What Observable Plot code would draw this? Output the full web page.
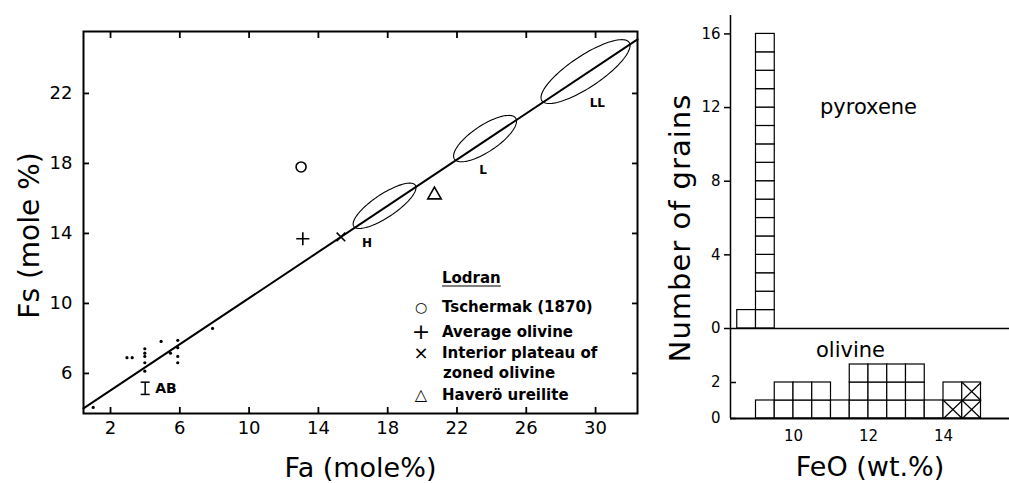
<!DOCTYPE html>
<html><head><meta charset="utf-8">
<script src="https://cdn.jsdelivr.net/npm/d3@7"></script>
<script src="https://cdn.jsdelivr.net/npm/@observablehq/plot@0.6"></script>
<style>
body{margin:0;background:#fff;}
#wrap{position:relative;width:1009px;height:483px;overflow:hidden;background:#fff;font-family:"DejaVu Sans",sans-serif;color:#000;}
.abs{position:absolute;}
.leg{position:absolute;font-size:15px;font-weight:bold;white-space:nowrap;line-height:1;transform:translateY(-50%);}
.sym{position:absolute;font-size:17px;line-height:1;transform:translate(-50%,-50%);}
</style></head><body><div id="wrap"></div>
<script>
// ---------- Left panel data ----------
const faTicks = [2, 6, 10, 14, 18, 22, 26, 30];
const fsTicks = [6, 10, 14, 18, 22];
const faDomain = [0.44, 32.42];
const fsDomain = [3.71, 25.54];
const lineFa = [0.44, 32.42];
const lineFs = [4.0, 25.09];
const ellipseNames = ["H", "L", "LL"];
const ellipseFa = [17.82, 23.62, 29.42];
const ellipseFs = [15.58, 19.42, 23.25];
const ellipseSemiMajor = [2.13, 2.12, 3.02];
const ellipseSemiMinor = [0.66, 0.75, 0.9];
const ellipseLabelFa = [16.8, 23.5, 30.1];
const ellipseLabelFs = [13.43, 17.6, 21.43];
const grainFa = [1.0, 2.95, 3.25, 3.98, 3.98, 3.98, 3.98, 3.98, 4.92, 5.46, 5.88, 5.88, 5.88, 5.88, 7.89];
const grainFs = [4.06, 6.9, 6.9, 7.41, 7.16, 6.97, 6.61, 6.13, 7.83, 7.16, 7.89, 7.47, 6.97, 6.61, 8.57];
const refNames = ["Tschermak (1870)", "Average olivine", "Interior plateau of zoned olivine", "Haverö ureilite"];
const refFa = [13.0, 13.1, 15.3, 20.7];
const refFs = [17.8, 13.7, 13.8, 16.2];
const refSymbols = ["circle", "plus", "times", "triangle"];
const refRadius = [5, 4.3, 4.0, 5];
const abLabel = ["AB"];
const abFa = [4.0];
const abLow = [4.8];
const abHigh = [5.5];

// ---------- Right panel data ----------
const feoDomain = [8.32, 15.76];
const feoTicks = [10, 12, 14];
const binWidth = 0.5;
const pyroxeneBins = [8.5, 9.0];
const pyroxeneCounts = [1, 16];
const pyroxeneTicks = [0, 4, 8, 12, 16];
const olivineBins = [9.0, 9.5, 10.0, 10.5, 11.0, 11.5, 12.0, 12.5, 13.0, 13.5, 14.0, 14.5];
const olivineCounts = [1, 2, 2, 2, 1, 3, 3, 3, 3, 1, 2, 2];
const olivineTicks = [0, 2];
const crossedBins = [14.0, 14.5, 14.5];
const crossedLevels = [0, 0, 1];

const wrap = document.getElementById("wrap");
function place(node, left, top, w, h) {
  const d = document.createElement("div");
  d.className = "abs";
  d.style.left = left + "px"; d.style.top = top + "px";
  d.style.width = w + "px"; d.style.height = h + "px";
  d.appendChild(node);
  wrap.appendChild(d);
  return d;
}

// horizontal bar symbol for error-bar caps
const hbar = {draw(ctx, size) { const r = Math.sqrt(size / Math.PI); ctx.moveTo(-r, 0); ctx.lineTo(r, 0); }};

// ---------- Left scatter plot ----------
const grains = grainFa.map((fa, i) => ({fa, fs: grainFs[i]}));
const refs = refNames.map((name, i) => ({name, fa: refFa[i], fs: refFs[i], symbol: refSymbols[i], r: refRadius[i]}));
const theta = Math.atan2(lineFs[1] - lineFs[0], lineFa[1] - lineFa[0]);
const ellipsePts = ellipseNames.flatMap((name, i) => d3.range(0, 121).map(j => {
  const t = j / 120 * 2 * Math.PI;
  const u = ellipseSemiMajor[i] * Math.cos(t), v = ellipseSemiMinor[i] * Math.sin(t);
  return {name, fa: ellipseFa[i] + u * Math.cos(theta) - v * Math.sin(theta), fs: ellipseFs[i] + u * Math.sin(theta) + v * Math.cos(theta)};
}));
const ellipseLabels = ellipseNames.map((name, i) => ({name, fa: ellipseLabelFa[i], fs: ellipseLabelFs[i]}));
const ab = abLabel.map((name, i) => ({name, fa: abFa[i], lo: abLow[i], hi: abHigh[i]}));
const mainLine = lineFa.map((fa, i) => ({fa, fs: lineFs[i]}));

const left = Plot.plot({
  width: 660, height: 483,
  marginLeft: 83, marginRight: 23, marginTop: 31, marginBottom: 70,
  style: {background: "none", fontFamily: "DejaVu Sans, sans-serif", overflow: "visible"},
  x: {domain: faDomain},
  y: {domain: fsDomain},
  r: {type: "identity"},
  marks: [
    Plot.frame({stroke: "black", strokeWidth: 2}),
    Plot.axisX({anchor: "bottom", ticks: faTicks, tickSize: -6, tickPadding: 14, fontSize: 18, strokeWidth: 1.8, label: null}),
    Plot.axisX({anchor: "top", ticks: faTicks, tickSize: -6, tickFormat: () => "", strokeWidth: 1.8, label: null}),
    Plot.axisY({anchor: "left", ticks: fsTicks, tickSize: -6, tickPadding: 17, fontSize: 18, strokeWidth: 1.8, label: null}),
    Plot.axisY({anchor: "right", ticks: fsTicks, tickSize: -6, tickFormat: () => "", strokeWidth: 1.8, label: null}),
    Plot.line(mainLine, {x: "fa", y: "fs", stroke: "black", strokeWidth: 2}),
    Plot.line(ellipsePts, {x: "fa", y: "fs", z: "name", stroke: "black", strokeWidth: 1.1}),
    Plot.text(ellipseLabels, {x: "fa", y: "fs", text: "name", fontSize: 12, fontWeight: "bold"}),
    Plot.dot(grains, {x: "fa", y: "fs", r: 1.6, fill: "black"}),
    Plot.dot(refs, {x: "fa", y: "fs", symbol: "symbol", r: "r", stroke: "black", strokeWidth: 1.6, fill: "none"}),
    Plot.link(ab, {x1: "fa", x2: "fa", y1: "lo", y2: "hi", stroke: "black", strokeWidth: 1.5}),
    Plot.dot(ab, {x: "fa", y: "lo", symbol: hbar, r: 4.5, stroke: "black", strokeWidth: 1.5}),
    Plot.dot(ab, {x: "fa", y: "hi", symbol: hbar, r: 4.5, stroke: "black", strokeWidth: 1.5}),
    Plot.text(ab, {x: "fa", y: d => (d.lo + d.hi) / 2, text: "name", textAnchor: "start", dx: 10, fontSize: 14, fontWeight: "bold"}),
    Plot.text(["Fa (mole%)"], {frameAnchor: "bottom", textAnchor: "middle", lineAnchor: "middle", dy: 55, fontSize: 27}),
    Plot.text(["Fs (mole %)"], {frameAnchor: "left", textAnchor: "middle", lineAnchor: "middle", dx: -53, dy: 13, rotate: -90, fontSize: 28})
  ]
});
place(left, 0, 0, 660, 483);

// Legend
function addLeg(text, x, y, underline) {
  const d = document.createElement("div");
  d.className = "leg"; d.textContent = text;
  d.style.left = x + "px"; d.style.top = y + "px";
  if (underline) { d.style.textDecoration = "underline"; d.style.textUnderlineOffset = "3px"; }
  wrap.appendChild(d);
}
function addSym(ch, x, y, size) {
  const d = document.createElement("div");
  d.className = "sym"; d.textContent = ch;
  d.style.left = x + "px"; d.style.top = y + "px";
  if (size) d.style.fontSize = size + "px";
  wrap.appendChild(d);
}
addLeg("Lodran", 442, 278, true);
const legSyms = ["○", "+", "×", "△"];
const legY = [307, 332, 353, 395];
addSym(legSyms[0], 421, legY[0], 14);
addSym(legSyms[1], 421, legY[1], 22);
addSym(legSyms[2], 421, legY[2], 18);
addSym(legSyms[3], 421, legY[3], 16);
addLeg(refNames[0], 442, legY[0]);
addLeg(refNames[1], 442, legY[1]);
addLeg("Interior plateau of", 442, legY[2]);
addLeg("zoned olivine", 443, 373);
addLeg(refNames[3], 442, legY[3]);

// ---------- Right histograms ----------
const cells = (bins, counts) => bins.flatMap((b, i) => d3.range(counts[i]).map(k => ({x1: b, x2: b + binWidth, y1: k, y2: k + 1})));
const pyrCells = cells(pyroxeneBins, pyroxeneCounts);
const olvCells = cells(olivineBins, olivineCounts);
const crossCells = crossedBins.map((b, i) => ({x1: b, x2: b + binWidth, y1: crossedLevels[i], y2: crossedLevels[i] + 1}));

const histStyle = {background: "none", fontFamily: "DejaVu Sans, sans-serif", overflow: "visible"};
const pyr = Plot.plot({
  width: 349, height: 331,
  marginLeft: 70, marginRight: 0, marginTop: 15, marginBottom: 3,
  style: histStyle,
  x: {domain: feoDomain, axis: null},
  y: {domain: [0, 17]},
  marks: [
    Plot.rect(pyrCells, {x1: "x1", x2: "x2", y1: "y1", y2: "y2", fill: "white", stroke: "black", strokeWidth: 1.2}),
    Plot.ruleY([0], {stroke: "black", strokeWidth: 1.5}),
    Plot.ruleX([feoDomain[0]], {stroke: "black", strokeWidth: 1.5}),
    Plot.axisY({ticks: pyroxeneTicks, tickSize: 6, tickPadding: 4, fontSize: 15, strokeWidth: 1.5, tickFormat: d3.format("d"), label: null}),
    Plot.text(["pyroxene"], {x: 12.0, y: 12.0, fontSize: 21})
  ]
});
place(pyr, 660, 0, 349, 331);

const olv = Plot.plot({
  width: 349, height: 163,
  marginLeft: 70, marginRight: 0, marginTop: 8, marginBottom: 65,
  style: histStyle,
  x: {domain: feoDomain},
  y: {domain: [0, 5]},
  marks: [
    Plot.rect(olvCells, {x1: "x1", x2: "x2", y1: "y1", y2: "y2", fill: "white", stroke: "black", strokeWidth: 1.2}),
    Plot.link(crossCells, {x1: "x1", y1: "y1", x2: "x2", y2: "y2", stroke: "black", strokeWidth: 1.2}),
    Plot.link(crossCells, {x1: "x1", y1: "y2", x2: "x2", y2: "y1", stroke: "black", strokeWidth: 1.2}),
    Plot.ruleY([0], {stroke: "black", strokeWidth: 1.8}),
    Plot.ruleX([feoDomain[0]], {stroke: "black", strokeWidth: 1.5}),
    Plot.axisY({ticks: olivineTicks, tickSize: -6, tickPadding: 16, fontSize: 15, strokeWidth: 1.5, tickFormat: d3.format("d"), label: null}),
    Plot.axisX({ticks: feoTicks, tickSize: 0, tickPadding: 12, fontSize: 15, tickFormat: d3.format("d"), label: null}),
    Plot.text(["olivine"], {x: 11.52, y: 3.78, fontSize: 21}),
    Plot.text(["FeO (wt.%)"], {frameAnchor: "bottom", textAnchor: "middle", lineAnchor: "middle", dy: 49, fontSize: 27})
  ]
});
place(olv, 660, 320, 349, 163);

// Shared y title
const yt = document.createElement("div");
yt.className = "abs";
yt.textContent = "Number of grains";
Object.assign(yt.style, {left: "680px", top: "228px", fontSize: "29px", whiteSpace: "nowrap", transform: "translate(-50%,-50%) rotate(-90deg)", lineHeight: "1", letterSpacing: "1px"});
wrap.appendChild(yt);
</script></body></html>
